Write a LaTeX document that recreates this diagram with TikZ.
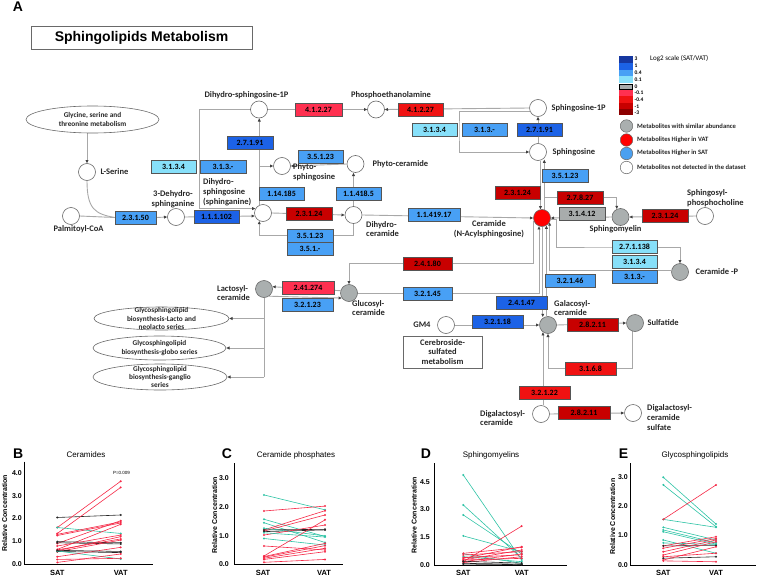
\documentclass[tikz,border=0pt]{standalone}
\usepackage{fontspec}
\setmainfont{Carlito}
\newfontfamily\arialf{Liberation Sans}
\usetikzlibrary{arrows.meta,shapes.geometric,positioning}
\pgfdeclarelayer{bg}
\pgfsetlayers{bg,main}
\definecolor{enzdkblue}{RGB}{28,98,230}
\definecolor{enzblue}{RGB}{72,160,245}
\definecolor{enzcyan}{RGB}{135,224,250}
\definecolor{enzgray}{RGB}{168,172,172}
\definecolor{enzpink}{RGB}{255,48,80}
\definecolor{enzred}{RGB}{240,18,18}
\definecolor{enzdkred}{RGB}{200,0,0}
\definecolor{legnavy}{RGB}{22,55,160}
\definecolor{legmaroon}{RGB}{140,0,0}
\definecolor{metgray}{RGB}{170,175,175}
\definecolor{metline}{RGB}{105,105,105}
\definecolor{boxline}{RGB}{85,85,85}
\definecolor{flowgray}{RGB}{168,168,168}
\definecolor{cerred}{RGB}{255,0,0}
\definecolor{legblue}{RGB}{75,160,240}
\definecolor{rd}{RGB}{245,40,70}
\definecolor{tl}{RGB}{45,195,165}
\colorlet{bk}{black!85}
\newcommand\enzfont{\fontsize{8}{9}\selectfont\bfseries}
\newcommand\metfont{\fontsize{8.5}{9.8}\selectfont\bfseries}
\newcommand\ellfont{\fontsize{7.3}{8.3}\selectfont\bfseries}
\newcommand\legfont{\fontsize{6.6}{7}\selectfont\bfseries}
\tikzset{>={Triangle[length=3.2pt,width=2.8pt,color=black!75]},
  enz/.style={draw=boxline,line width=0.5pt,minimum height=13pt,inner sep=0pt,
    font=\enzfont,text=black},
  met/.style={circle,draw=metline,line width=0.6pt,minimum size=17pt,inner sep=0pt},
  lbl/.style={font=\metfont,text=black!85,inner sep=0pt,align=left},
  lblc/.style={lbl,align=center},
  flow/.style={draw=flowgray,line width=0.9pt},
  pathell/.style={ellipse,draw=metline,line width=0.6pt,inner sep=0pt},
  elltxt/.style={font=\ellfont,text=black!85,align=center,inner sep=0pt},
  legdot/.style={circle,draw=metline,line width=0.5pt,minimum size=12.5pt,inner sep=0pt},
  legtxt/.style={font=\legfont,text=black!85,inner sep=0pt,anchor=west},
  legnum/.style={font=\fontsize{5.5}{6}\selectfont\bfseries,inner sep=0pt,anchor=west},
  panel/.style={font=\arialf\bfseries\fontsize{14}{16}\selectfont,inner sep=0pt},
  ptitle/.style={font=\arialf\fontsize{8}{9}\selectfont,inner sep=0pt},
  ptick/.style={font=\arialf\bfseries\fontsize{7}{8}\selectfont,inner sep=0pt,anchor=east},
  pxlab/.style={font=\arialf\bfseries\fontsize{7.5}{8}\selectfont,inner sep=0pt},
  pylab/.style={font=\arialf\bfseries\fontsize{7}{8}\selectfont,inner sep=0pt,rotate=90},
  axis/.style={draw=black,line width=0.8pt},
  pline/.style={line width=0.6pt}
}
\newcommand\Enz[5]{%
  \node[enz,minimum width=#3pt,fill=#4] (#1) at (#2) {#5};
}
\newcommand\Met[3]{%
  \node[met,fill=#3] (#1) at (#2) {};
}

\begin{document}
\begin{tikzpicture}[x=1pt,y=-1pt]
\useasboundingbox (0,0) rectangle (757,578);

% heading
\node[panel] (pA) at (18,7) {A};
\node[draw=metline,line width=0.7pt,minimum width=221pt,minimum height=23pt,
  font=\arialf\bfseries\fontsize{14}{16}\selectfont] (ttl) at (141.5,37.5)
  {Sphingolipids Metabolism};

% metabolites
\node[pathell,minimum width=133pt,minimum height=27pt] (gly) at (92.5,119.5) {};
\node[elltxt] (glytxt) at (gly) {Glycine, serine and\\threonine metabolism};
\Met{ser}{87,172}{white}
\Met{palm}{71,216}{white}
\Met{dhd}{176,217}{white}
\Met{dhs}{263,213}{white}
\Met{dhsp}{259,109.5}{white}
\Met{pe}{376,109.5}{white}
\Met{sop}{538,108}{white}
\Met{phs}{282,166}{white}
\Met{phc}{355.5,164}{white}
\Met{dhc}{353.5,215}{white}
\Met{cer}{542,218}{cerred}
\Met{sph}{538,152}{white}
\Met{sm}{620.5,217}{metgray}
\Met{spc}{705,216}{white}
\Met{cerp}{680,272}{metgray}
\Met{glc}{349,293}{metgray}
\Met{lac}{264,289}{metgray}
\Met{gm}{446,325}{white}
\Met{gal}{548,325}{metgray}
\Met{sulf}{635,323}{metgray}
\Met{dgc}{541,414}{white}
\Met{dgs}{633,413}{white}
\node[pathell,minimum width=135pt,minimum height=23pt] (gsl1) at (161.5,318.5) {};
\node[pathell,minimum width=133pt,minimum height=24pt] (gsl2) at (159.5,348) {};
\node[pathell,minimum width=134pt,minimum height=26pt] (gsl3) at (160,377) {};
\node[elltxt] (gsltxt1) at (gsl1) {Glycosphingolipid\\biosynthesis-Lacto and\\neolacto series};
\node[elltxt] (gsltxt2) at (gsl2) {Glycosphingolipid\\biosynthesis-globo series};
\node[elltxt] (gsltxt3) at (gsl3) {Glycosphingolipid\\biosynthesis-ganglio\\series};
\node[draw=metline,line width=0.6pt,minimum width=79pt,minimum height=32pt,
  align=center,font=\metfont,text=black!85,inner sep=0pt] (cbs) at (442.5,352)
  {Cerebroside-\\sulfated\\metabolism};

% metabolite names
\node[lblc] (lpalm) at (78.5,229) {Palmitoyl-CoA};
\node[lbl,right=4.5pt of ser] (lser) {L-Serine};
\node[lblc] (ldhd) at (173,199) {3-Dehydro-\\sphinganine};
\node[lbl,anchor=west] (ldhs) at (203,192.5) {Dihydro-\\sphingosine\\(sphinganine)};
\node[lblc] (ldhsp) at (246.5,95) {Dihydro-sphingosine-1P};
\node[lblc] (lpe) at (391,95) {Phosphoethanolamine};
\node[lbl,right=4.5pt of sop] (lsop) {Sphingosine-1P};
\node[lbl,anchor=west] (lphs) at (293,172) {Phyto-\\sphingosine};
\node[lbl,right=8pt of phc] (lphc) {Phyto-ceramide};
\node[lbl,anchor=west] (ldhc) at (366,229) {Dihydro-\\ceramide};
\node[lblc] (lcer) at (489,229) {Ceramide\\(N-Acylsphingosine)};
\node[lbl,right=5.5pt of sph] (lsph) {Sphingosine};
\node[lblc] (lsm) at (615.5,229.5) {Sphingomyelin};
\node[lbl,anchor=west] (lspc) at (687,198) {Sphingosyl-\\phosphocholine};
\node[lbl,right=6.5pt of cerp] (lcerp) {Ceramide -P};
\node[lbl,anchor=west] (lglc) at (352,308) {Glucosyl-\\ceramide};
\node[lbl,anchor=west] (llac) at (217,293) {Lactosyl-\\ceramide};
\node[lbl,left=6.5pt of gm] (lgm) {GM4};
\node[lbl,anchor=west] (lgal) at (554,308) {Galacosyl-\\ceramide};
\node[lbl,right=3.5pt of sulf] (lsulf) {Sulfatide};
\node[lbl,anchor=west] (ldgc) at (480,418) {Digalactosyl-\\ceramide};
\node[lbl,anchor=west] (ldgs) at (647,417.5) {Digalactosyl-\\ceramide\\sulfate};

% enzymes
\Enz{e1}{135.5,217.5}{41}{enzblue}{2.3.1.50}
\Enz{e2}{216.5,217}{45}{enzdkblue}{1.1.1.102}
\Enz{e3}{173.5,166.5}{45}{enzcyan}{3.1.3.4}
\Enz{e4}{223,166.5}{46}{enzblue}{3.1.3.-}
\Enz{e5}{250,143}{46}{enzdkblue}{2.7.1.91}
\Enz{e6}{318.5,109.5}{47}{enzpink}{4.1.2.27}
\Enz{e7}{420.5,109.5}{45}{enzred}{4.1.2.27}
\Enz{e8}{434.5,130}{45}{enzcyan}{3.1.3.4}
\Enz{e9}{484.5,130}{45}{enzblue}{3.1.3.-}
\Enz{e10}{539.5,129.5}{45}{enzdkblue}{2.7.1.91}
\Enz{e11}{320.5,157}{45}{enzblue}{3.5.1.23}
\Enz{e12}{281.5,193.5}{45}{enzblue}{1.14.185}
\Enz{e13}{358.5,193.5}{45}{enzblue}{1.1.418.5}
\Enz{e14}{309,213.5}{46}{enzdkred}{2.3.1.24}
\Enz{e15}{310,235.5}{46}{enzblue}{3.5.1.23}
\Enz{e16}{310,248.5}{46}{enzblue}{3.5.1.-}
\Enz{e17}{434,215}{52}{enzblue}{1.1.419.17}
\Enz{e18}{517.5,192.5}{45}{enzdkred}{2.3.1.24}
\Enz{e19}{565,176}{46}{enzblue}{3.5.1.23}
\Enz{e20}{580,197.5}{46}{enzdkred}{2.7.8.27}
\Enz{e21}{582,214}{46}{enzgray}{3.1.4.12}
\Enz{e22}{665,216}{46}{enzdkred}{2.3.1.24}
\Enz{e23}{634.5,247}{45}{enzcyan}{2.7.1.138}
\Enz{e24}{634.5,262}{45}{enzcyan}{3.1.3.4}
\Enz{e25}{634.5,276.5}{45}{enzblue}{3.1.3.-}
\Enz{e26}{427.5,263.5}{49}{enzdkred}{2.4.1.80}
\Enz{e27}{308,288}{52}{enzpink}{2.41.274}
\Enz{e28}{307.5,304.5}{51}{enzblue}{3.2.1.23}
\Enz{e29}{427.5,293.5}{49}{enzblue}{3.2.1.45}
\Enz{e30}{570,281}{50}{enzblue}{3.2.1.46}
\Enz{e31}{521.5,302.5}{51}{enzdkblue}{2.4.1.47}
\Enz{e32}{497.5,322}{51}{enzdkblue}{3.2.1.18}
\Enz{e33}{592.5,324.5}{51}{enzdkred}{2.8.2.11}
\Enz{e34}{590.5,368.5}{51}{enzred}{3.1.6.8}
\Enz{e35}{544.5,393}{51}{enzred}{3.2.1.22}
\Enz{e36}{584,412.5}{52}{enzdkred}{2.8.2.11}

% reactions
\begin{pgfonlayer}{bg}
\draw[flow,->] (ser.north |- gly.south) -- (ser.north);
\draw[flow] (ser.south) .. controls (87,209) and (95,214) .. (e1.west);
\draw[flow] (palm.east) -- (e1.west);
\draw[flow,->] (e1.east) -- (dhd.west);
\draw[flow,->] (dhd.east) -- (dhs.200);
\coordinate (jA) at (199,109.5);
\draw[flow,->] (dhsp.west) -- (jA) |- (dhs.150);
\draw[flow,->] (dhs.115) -- (dhs.115 |- dhsp.south);
\draw[flow,->] (dhs.115 |- phs.west) -- (phs.west);
\draw[flow,->] (dhsp.east) -- (pe.west);
\draw[flow,->] (sop.west) -- (pe.east);
\coordinate (jB) at (459,130);
\draw[flow,->] (sop.200) -| (jB) |- (sph.west);
\draw[flow,->] (sph.north) -- (sop.south);
\draw[flow,->] (phc.west) -- (phs.east);
\draw[flow,->] (dhc.north) -- (dhc.north |- phc.south);
\draw[flow,->] (dhs.east) -- (dhc.west);
\draw[flow,->] (dhc.south) |- (e15.east) -- (dhs.245 |- e15.west) -- (dhs.245);
\draw[flow,->] (dhc.east) -- (cer.west);
\draw[flow,->] (sph.south -| cer.100) -- (cer.100);
\draw[flow,->] (cer.75) -- (cer.75 |- sph.300);
\draw[flow,->] (cer.75) |- (e20.west) -| (sm.115);
\draw[flow,->] (sm.west) -- (cer.east);
\draw[flow,->] (spc.west) -- (sm.east);
\draw[flow,->] (cer.-10) -- ++(6,0) |- (e23.west) -| (cerp.north);
\draw[flow,->] (cerp.170) -| (cer.-30);
\draw[flow,->] (cer.200) |- (e26.east) -| (glc.north);
\draw[flow,->] (glc.east) -| (cer.250);
\draw[flow,->] (cer.275) -- (cer.275 |- gal.115);
\draw[flow,->] (gal.north -| cer.-60) -- (cer.-60);
\draw[flow,->] (glc.165) -- (lac.15);
\draw[flow,->] (lac.-55) -- (glc.215);
\draw[flow] (lac.south) -- (lac.south |- gsl3.east);
\foreach \g in {gsl1,gsl2,gsl3}
  \draw[flow,->] (lac.south |- \g.east) -- (\g.east);
\draw[flow,->] (gm.east) -- (gal.west);
\draw[flow,->] (gal.east) -- (sulf.west);
\draw[flow,->] (sulf.250) |- (e34.east) -| (gal.south);
\draw[flow,->] (dgc.north -| gal.235) -- (gal.235);
\draw[flow,->] (dgc.east) -- (dgs.west);
\end{pgfonlayer}

% legend
\foreach \c [count=\i] in {legnavy,enzdkblue,enzblue,enzcyan}
  \fill[\c] (619,{56+(\i-1)*6.75}) rectangle ++(14,6.75);
\draw[black,fill=enzgray,line width=0.8pt] (619.5,84.5) rectangle (632.5,89.5);
\foreach \c [count=\i] in {enzpink,enzred,enzdkred,legmaroon}
  \fill[\c] (619,{90+(\i-1)*6.25}) rectangle ++(14,6.25);
\foreach \t/\y [count=\i] in {3/59,1/66,0.4/73,0.1/79.5,0/87,-0.1/93,-0.4/100,-1/106.5,-3/113}
  \node[legnum] (lnum\i) at (634.5,\y) {\t};
\node[font=\fontsize{7}{8}\selectfont,inner sep=0pt,anchor=west] (lscale) at (650,59) {Log2 scale (SAT/VAT)};
\node[legdot,fill=metgray] (ld1) at (626.5,126) {};
\node[legdot,fill=cerred] (ld2) at (626.5,140) {};
\node[legdot,fill=legblue] (ld3) at (626.5,153.5) {};
\node[legdot,fill=white] (ld4) at (626.5,167.5) {};
\node[legtxt] (lt1) at (637,126) {Metabolites with similar abundance};
\node[legtxt] (lt2) at (637,139.5) {Metabolites Higher in VAT};
\node[legtxt] (lt3) at (637,153) {Metabolites Higher in SAT};
\node[legtxt] (lt4) at (637,167) {Metabolites not detected in the dataset};

% B: ceramides
\node[panel] (pB) at (18.3,454) {B};
\node[ptitle] (tB) at (86,454.3) {Ceramides};
\draw[axis] (24,461.7) -- (24,564) -- (153.3,564);
\foreach \t [count=\i from 0] in {0.0,1.0,2.0,3.0,4.0}
  \node[ptick] (yB\i) at (22,{564-22.8*\i}) {\t};
\node[pylab] (rB) at (4.5,513) {Relative Concentration};
\node[pxlab] (sB) at (57.3,573.3) {SAT};
\node[pxlab] (vB) at (120.7,573.3) {VAT};
\node[font=\arialf\fontsize{4.5}{5}\selectfont,inner sep=0pt] (pval) at (121.5,473) {P=0.009};
\foreach \s/\v/\c in {2.04/2.15/bk,1.6/3.63/rd,1.34/3.36/rd,1.6/1.34/tl,1.3/1.85/rd,
    0.9/1.9/rd,0.64/1.74/rd,0.98/0.93/bk,0.93/0.88/bk,0.79/1.27/rd,0.58/1.2/rd,
    0.54/1.05/rd,0.55/0.5/bk,0.57/0.22/tl,0.32/0.73/rd,0.2/0.25/rd,0.07/0.44/rd,
    0.62/1.1/rd,0.6/0.55/bk,1.25/1.8/rd}
  \draw[pline,\c] (57.3,{564-22.8*\s}) circle (0.7) -- (120.7,{564-22.8*\v}) circle (0.7);

% C: ceramide phosphates
\node[panel] (pC) at (227,453.5) {C};
\node[ptitle] (tC) at (296,455) {Ceramide phosphates};
\draw[axis] (234.3,463.3) -- (234.3,564.3) -- (343.3,564.3);
\foreach \t [count=\i from 0] in {0.0,1.0,2.0,3.0}
  \node[ptick] (yC\i) at (229,{564.3-28.67*\i}) {\t};
\node[pylab] (rC) at (214.5,515) {Relative Concentration};
\node[pxlab] (sC) at (263,573.3) {SAT};
\node[pxlab] (vC) at (324,573.3) {VAT};
\foreach \s/\v/\c in {2.42/1.9/tl,1.86/2.03/rd,1.57/0.97/tl,1.45/0.76/tl,1.2/1.87/rd,
    1.16/1.72/rd,1.2/1.22/bk,1.26/0.99/tl,1.14/1.2/bk,1.02/1.37/rd,0.9/0.67/tl,
    0.64/0.5/rd,0.29/1.55/rd,0.27/0.73/rd,0.21/0.56/rd,0.17/0.44/rd,0.07/0.17/rd,
    0.25/0.65/rd,1.1/0.95/tl}
  \draw[pline,\c] (264,{564.3-28.67*\s}) circle (0.7) -- (325,{564.3-28.67*\v}) circle (0.7);

% D: sphingomyelins
\node[panel] (pD) at (426,454) {D};
\node[ptitle] (tD) at (491,455) {Sphingomyelins};
\draw[axis] (434,463.3) -- (434,565) -- (566.7,565);
\foreach \t [count=\i from 0] in {0.0,1.5,3.0,4.5}
  \node[ptick] (yD\i) at (430,{565-27.78*\i}) {\t};
\node[pylab] (rD) at (414,515) {Relative Concentration};
\node[pxlab] (sD) at (463.3,573.3) {SAT};
\node[pxlab] (vD) at (521.7,573.3) {VAT};
\foreach \s/\v/\c in {4.86/0.27/tl,3.24/0.36/tl,2.7/0.6/tl,1.57/0.72/tl,0.6/0.09/tl,
    0.45/0.18/tl,0.18/2.1/rd,0.63/0.95/rd,0.54/0.72/rd,0.36/0.99/rd,0.27/0.81/rd,
    0.18/0.6/rd,0.13/0.45/rd,0.27/0.36/rd,0.4/0.55/rd,0.09/0.04/bk,0.05/0.02/bk,
    0.2/0.1/bk}
  \draw[pline,\c] (463.3,{565-18.52*\s}) circle (0.7) -- (521.7,{565-18.52*\v}) circle (0.7);

% E: glycosphingolipids
\node[panel] (pE) at (623.5,454) {E};
\node[ptitle] (tE) at (695,455) {Glycosphingolipids};
\draw[axis] (630.7,463.3) -- (630.7,565) -- (756,565);
\foreach \t [count=\i from 0] in {0.0,1.0,2.0,3.0}
  \node[ptick] (yE\i) at (628,{565-29.44*\i}) {\t};
\node[pylab] (rE) at (612.5,516.7) {Relative Concentration};
\node[pxlab] (sE) at (663.3,573.3) {SAT};
\node[pxlab] (vE) at (716,573.3) {VAT};
\foreach \s/\v/\c in {2.98/1.39/tl,2.72/1.3/tl,1.55/1.28/tl,1.28/0.85/tl,1.19/0.76/tl,
    1.13/0.71/tl,0.85/0.4/tl,0.75/0.7/tl,1.55/2.72/rd,0.65/0.96/rd,0.65/0.66/bk,
    0.57/0.9/rd,0.45/0.85/rd,0.34/0.79/rd,0.28/0.4/rd,0.23/0.28/bk,0.17/0.62/rd,
    0.14/0.11/rd}
  \draw[pline,\c] (663.3,{565-29.44*\s}) circle (0.7) -- (716,{565-29.44*\v}) circle (0.7);
\end{tikzpicture}
\end{document}
